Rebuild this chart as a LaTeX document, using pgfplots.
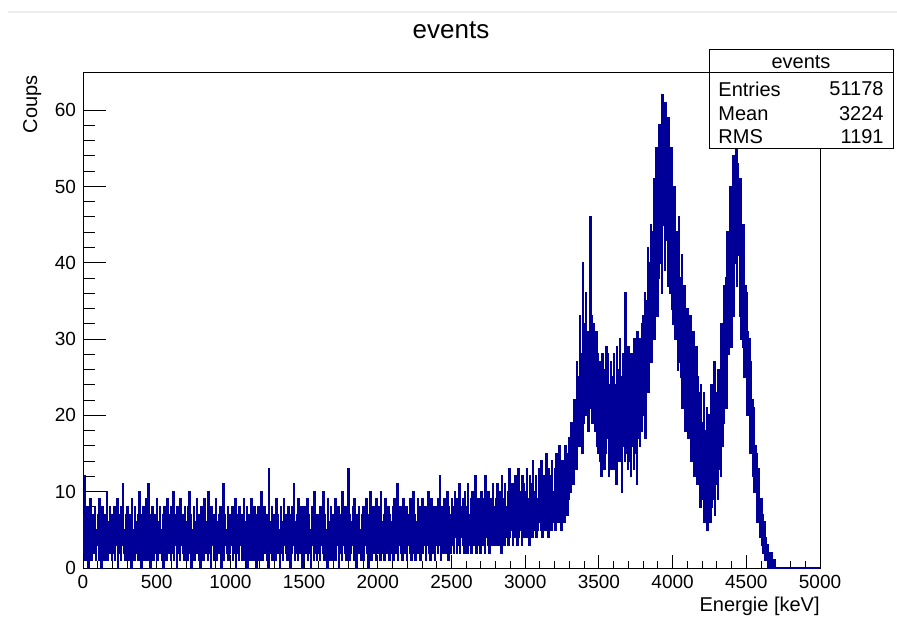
\documentclass[border=0pt]{standalone}
\usepackage{fontspec}
\setmainfont{Liberation Sans}
\usepackage{pgfplots}
\pgfplotsset{compat=1.18}
\definecolor{rootblue}{RGB}{0,0,153}

\begin{document}
\begin{tikzpicture}[x=1pt,y=1pt]
\useasboundingbox (0,0) rectangle (448.5,308);
\draw[black!7, line width=0.8pt] (4,302) -- (448.5,302);
\begin{axis}[
    at={(41.5pt,24pt)}, anchor=south west,
    scale only axis, width=368.5pt, height=248pt,
    xmin=0, xmax=5000, ymin=0, ymax=65,
    xtick={0,500,...,5000}, ytick={0,10,...,60},
    minor x tick num=4, minor y tick num=4,
    tick align=inside, tick pos=left,
    xtick style={/pgfplots/major tick length=6.5pt, /pgfplots/minor tick length=3.5pt},
    ytick style={/pgfplots/major tick length=11.5pt, /pgfplots/minor tick length=6pt},
    every tick/.style={black, line width=0.5pt},
    axis line style={line width=0.5pt},
    /pgf/number format/assume math mode=true,
    /pgf/number format/1000 sep={},
    scaled ticks=false,
    ticklabel style={font=\fontsize{9.5}{11}\selectfont},
    clip=true,
]
% histogramme, pas de 5 keV
\addplot[const plot, rootblue, line width=0.95pt] coordinates {
(0,7)(5,2)(10,12)(15,1)(20,6)(25,3)(30,8)(35,0)(40,5)(45,2)(50,9)(55,1)(60,7)(65,3)(70,6)(75,2)(80,8)(85,1)(90,5)(95,3)
(100,7)(105,1)(110,9)(115,2)(120,6)(125,0)(130,8)(135,3)(140,5)(145,1)(150,7)(155,2)(160,10)(165,1)(170,6)(175,3)(180,8)(185,2)(190,7)(195,1)
(200,6)(205,2)(210,8)(215,1)(220,5)(225,3)(230,9)(235,0)(240,7)(245,2)(250,6)(255,1)(260,8)(265,3)(270,11)(275,2)(280,5)(285,1)(290,7)(295,2)
(300,8)(305,1)(310,6)(315,3)(320,7)(325,0)(330,9)(335,2)(340,5)(345,1)(350,8)(355,3)(360,6)(365,2)(370,7)(375,1)(380,10)(385,2)(390,6)(395,0)
(400,7)(405,3)(410,8)(415,1)(420,6)(425,2)(430,9)(435,1)(440,11)(445,3)(450,5)(455,0)(460,7)(465,2)(470,8)(475,1)(480,6)(485,3)(490,7)(495,2)
(500,9)(505,1)(510,6)(515,2)(520,8)(525,3)(530,5)(535,1)(540,7)(545,0)(550,8)(555,2)(560,6)(565,1)(570,9)(575,3)(580,7)(585,2)(590,5)(595,1)
(600,8)(605,2)(610,10)(615,1)(620,6)(625,3)(630,7)(635,0)(640,8)(645,2)(650,5)(655,1)(660,9)(665,3)(670,6)(675,2)(680,7)(685,1)(690,8)(695,2)
(700,6)(705,1)(710,8)(715,3)(720,10)(725,2)(730,7)(735,0)(740,5)(745,2)(750,8)(755,1)(760,6)(765,3)(770,9)(775,2)(780,7)(785,1)(790,6)(795,0)
(800,8)(805,2)(810,7)(815,1)(820,9)(825,3)(830,6)(835,2)(840,5)(845,1)(850,10)(855,2)(860,7)(865,0)(870,8)(875,3)(880,6)(885,1)(890,7)(895,2)
(900,9)(905,1)(910,6)(915,2)(920,7)(925,3)(930,8)(935,0)(940,6)(945,2)(950,11)(955,1)(960,7)(965,3)(970,5)(975,2)(980,8)(985,1)(990,6)(995,2)
(1000,7)(1005,3)(1010,8)(1015,1)(1020,6)(1025,2)(1030,9)(1035,0)(1040,7)(1045,2)(1050,5)(1055,1)(1060,8)(1065,3)(1070,6)(1075,1)(1080,7)(1085,2)(1090,9)(1095,1)
(1100,6)(1105,2)(1110,8)(1115,0)(1120,7)(1125,3)(1130,5)(1135,1)(1140,9)(1145,2)(1150,6)(1155,1)(1160,8)(1165,3)(1170,7)(1175,0)(1180,6)(1185,2)(1190,8)(1195,1)
(1200,7)(1205,2)(1210,10)(1215,1)(1220,6)(1225,3)(1230,8)(1235,2)(1240,5)(1245,1)(1250,7)(1255,0)(1260,13)(1265,2)(1270,6)(1275,3)(1280,8)(1285,1)(1290,7)(1295,2)
(1300,6)(1305,1)(1310,9)(1315,2)(1320,7)(1325,3)(1330,5)(1335,0)(1340,8)(1345,2)(1350,6)(1355,1)(1360,9)(1365,3)(1370,7)(1375,2)(1380,6)(1385,1)(1390,8)(1395,2)
(1400,7)(1405,0)(1410,6)(1415,2)(1420,8)(1425,3)(1430,11)(1435,1)(1440,6)(1445,2)(1450,7)(1455,1)(1460,9)(1465,3)(1470,5)(1475,2)(1480,8)(1485,0)(1490,7)(1495,1)
(1500,8)(1505,2)(1510,6)(1515,3)(1520,9)(1525,1)(1530,7)(1535,2)(1540,5)(1545,0)(1550,8)(1555,3)(1560,6)(1565,1)(1570,10)(1575,2)(1580,7)(1585,1)(1590,6)(1595,2)
(1600,7)(1605,1)(1610,8)(1615,3)(1620,6)(1625,2)(1630,10)(1635,1)(1640,7)(1645,2)(1650,5)(1655,0)(1660,9)(1665,3)(1670,6)(1675,1)(1680,8)(1685,2)(1690,7)(1695,1)
(1700,6)(1705,2)(1710,9)(1715,1)(1720,7)(1725,3)(1730,8)(1735,0)(1740,6)(1745,2)(1750,7)(1755,1)(1760,10)(1765,3)(1770,5)(1775,2)(1780,8)(1785,1)(1790,6)(1795,2)
(1800,13)(1805,1)(1810,7)(1815,2)(1820,6)(1825,3)(1830,8)(1835,1)(1840,9)(1845,2)(1850,6)(1855,0)(1860,7)(1865,3)(1870,8)(1875,2)(1880,5)(1885,1)(1890,7)(1895,2)
(1900,8)(1905,1)(1910,6)(1915,3)(1920,9)(1925,2)(1930,7)(1935,0)(1940,6)(1945,2)(1950,10)(1955,1)(1960,7)(1965,3)(1970,8)(1975,2)(1980,6)(1985,1)(1990,9)(1995,2)
(2000,7)(2005,2)(2010,8)(2015,1)(2020,10)(2025,3)(2030,6)(2035,2)(2040,7)(2045,1)(2050,9)(2055,3)(2060,6)(2065,2)(2070,8)(2075,1)(2080,7)(2085,3)(2090,6)(2095,2)
(2100,8)(2105,1)(2110,9)(2115,3)(2120,7)(2125,2)(2130,11)(2135,1)(2140,6)(2145,3)(2150,8)(2155,2)(2160,7)(2165,1)(2170,9)(2175,3)(2180,6)(2185,2)(2190,8)(2195,1)
(2200,7)(2205,3)(2210,6)(2215,2)(2220,9)(2225,1)(2230,8)(2235,3)(2240,10)(2245,2)(2250,7)(2255,1)(2260,6)(2265,3)(2270,9)(2275,2)(2280,8)(2285,1)(2290,7)(2295,3)
(2300,9)(2305,2)(2310,7)(2315,3)(2320,8)(2325,1)(2330,6)(2335,3)(2340,10)(2345,2)(2350,7)(2355,1)(2360,9)(2365,3)(2370,8)(2375,2)(2380,6)(2385,1)(2390,8)(2395,3)
(2400,7)(2405,2)(2410,9)(2415,3)(2420,12)(2425,1)(2430,8)(2435,3)(2440,7)(2445,2)(2450,9)(2455,3)(2460,6)(2465,2)(2470,10)(2475,1)(2480,8)(2485,3)(2490,7)(2495,2)
(2500,9)(2505,3)(2510,8)(2515,2)(2520,10)(2525,4)(2530,7)(2535,2)(2540,9)(2545,3)(2550,11)(2555,2)(2560,8)(2565,4)(2570,7)(2575,3)(2580,9)(2585,2)(2590,10)(2595,3)
(2600,8)(2605,2)(2610,11)(2615,4)(2620,7)(2625,3)(2630,9)(2635,2)(2640,10)(2645,4)(2650,8)(2655,3)(2660,12)(2665,2)(2670,7)(2675,4)(2680,9)(2685,3)(2690,8)(2695,2)
(2700,10)(2705,4)(2710,7)(2715,3)(2720,9)(2725,2)(2730,12)(2735,4)(2740,8)(2745,3)(2750,10)(2755,2)(2760,9)(2765,4)(2770,7)(2775,3)(2780,11)(2785,5)(2790,8)(2795,3)
(2800,9)(2805,4)(2810,11)(2815,3)(2820,8)(2825,5)(2830,10)(2835,2)(2840,12)(2845,4)(2850,9)(2855,3)(2860,11)(2865,5)(2870,8)(2875,4)(2880,10)(2885,3)(2890,13)(2895,4)
(2900,9)(2905,5)(2910,11)(2915,3)(2920,10)(2925,4)(2930,12)(2935,5)(2940,8)(2945,3)(2950,13)(2955,4)(2960,10)(2965,5)(2970,9)(2975,3)(2980,12)(2985,4)(2990,11)(2995,5)
(3000,10)(3005,4)(3010,13)(3015,5)(3020,9)(3025,3)(3030,12)(3035,6)(3040,11)(3045,4)(3050,14)(3055,5)(3060,10)(3065,6)(3070,12)(3075,4)(3080,9)(3085,5)(3090,13)(3095,6)
(3100,11)(3105,5)(3110,14)(3115,4)(3120,12)(3125,6)(3130,10)(3135,5)(3140,15)(3145,7)(3150,11)(3155,4)(3160,13)(3165,6)(3170,12)(3175,5)(3180,14)(3185,7)(3190,10)(3195,6)
(3200,13)(3205,5)(3210,15)(3215,7)(3220,12)(3225,6)(3230,16)(3235,8)(3240,11)(3245,5)(3250,14)(3255,7)(3260,13)(3265,6)(3270,16)(3275,8)(3280,12)(3285,7)(3290,15)(3295,9)
(3300,17)(3305,10)(3310,19)(3315,12)(3320,18)(3325,11)(3330,22)(3335,14)(3340,21)(3345,13)(3350,27)(3355,17)(3360,25)(3365,16)(3370,33)(3375,18)(3380,28)(3385,15)(3390,40)(3395,19)
(3400,32)(3405,20)(3410,36)(3415,22)(3420,31)(3425,18)(3430,30)(3435,21)(3440,46)(3445,24)(3450,33)(3455,19)(3460,32)(3465,20)(3470,29)(3475,18)(3480,31)(3485,16)(3490,28)(3495,15)
(3500,27)(3505,14)(3510,25)(3515,12)(3520,28)(3525,16)(3530,24)(3535,13)(3540,26)(3545,15)(3550,29)(3555,17)(3560,28)(3565,12)(3570,24)(3575,15)(3580,27)(3585,13)(3590,25)(3595,16)
(3600,28)(3605,13)(3610,24)(3615,11)(3620,29)(3625,15)(3630,26)(3635,14)(3640,30)(3645,17)(3650,25)(3655,10)(3660,28)(3665,16)(3670,27)(3675,14)(3680,36)(3685,15)(3690,26)(3695,13)
(3700,29)(3705,14)(3710,26)(3715,12)(3720,28)(3725,16)(3730,25)(3735,13)(3740,30)(3745,15)(3750,27)(3755,11)(3760,31)(3765,17)(3770,28)(3775,16)(3780,30)(3785,18)(3790,32)(3795,20)
(3800,33)(3805,21)(3810,36)(3815,17)(3820,35)(3825,24)(3830,42)(3835,23)(3840,40)(3845,28)(3850,45)(3855,27)(3860,44)(3865,32)(3870,51)(3875,30)(3880,48)(3885,34)(3890,55)(3895,33)
(3900,53)(3905,38)(3910,58)(3915,40)(3920,54)(3925,36)(3930,62)(3935,45)(3940,57)(3945,39)(3950,61)(3955,43)(3960,56)(3965,37)(3970,59)(3975,40)(3980,52)(3985,36)(3990,55)(3995,34)
(4000,47)(4005,32)(4010,50)(4015,30)(4020,42)(4025,31)(4030,44)(4035,26)(4040,46)(4045,27)(4050,38)(4055,25)(4060,41)(4065,21)(4070,35)(4075,23)(4080,37)(4085,18)(4090,32)(4095,20)
(4100,34)(4105,17)(4110,29)(4115,19)(4120,33)(4125,14)(4130,27)(4135,16)(4140,31)(4145,12)(4150,26)(4155,15)(4160,29)(4165,11)(4170,25)(4175,13)(4180,23)(4185,8)(4190,24)(4195,10)
(4200,19)(4205,9)(4210,23)(4215,6)(4220,18)(4225,8)(4230,21)(4235,5)(4240,20)(4245,7)(4250,17)(4255,6)(4260,24)(4265,8)(4270,18)(4275,9)(4280,27)(4285,7)(4290,21)(4295,11)
(4300,23)(4305,9)(4310,26)(4315,13)(4320,24)(4325,12)(4330,32)(4335,16)(4340,30)(4345,19)(4350,37)(4355,23)(4360,38)(4365,21)(4370,44)(4375,28)(4380,43)(4385,31)(4390,50)(4395,29)
(4400,48)(4405,36)(4410,54)(4415,33)(4420,52)(4425,40)(4430,57)(4435,37)(4440,53)(4445,41)(4450,49)(4455,33)(4460,51)(4465,30)(4470,42)(4475,29)(4480,45)(4485,25)(4490,37)(4495,26)
(4500,36)(4505,20)(4510,31)(4515,23)(4520,30)(4525,15)(4530,27)(4535,18)(4540,22)(4545,12)(4550,21)(4555,10)(4560,16)(4565,11)(4570,15)(4575,6)(4580,13)(4585,7)(4590,9)(4595,4)
(4600,9)(4605,3)(4610,7)(4615,2)(4620,6)(4625,1)(4630,4)(4635,1)(4640,3)(4645,0)(4650,2)(4655,0)(4660,1)(4665,0)(4670,2)(4675,0)(4680,1)(4685,0)(4690,1)(4695,0)
(4700,0)(5000,0)
};
\end{axis}
% titre
\node[font=\fontsize{13}{15}\selectfont] at (225.5,293) {events};
% titres des axes
\node[anchor=base east, font=\fontsize{10}{12}\selectfont, inner sep=0pt] at (410,2.5) {Energie [keV]};
\node[rotate=90, anchor=base east, font=\fontsize{10}{12}\selectfont, inner sep=0pt] at (18.5,270.5) {Coups};
% boite de statistiques
\draw[fill=white, line width=0.5pt] (354.5,233.5) rectangle (446.5,283);
\draw[line width=0.5pt] (354.5,271.5) -- (446.5,271.5);
\begin{scope}[every node/.style={font=\fontsize{10}{12}\selectfont, inner sep=0pt}]
\node at (400.5,277) {events};
\node[anchor=west] at (359,263.5) {Entries};
\node[anchor=east] at (442,263.5) {51178};
\node[anchor=west] at (359,251) {Mean};
\node[anchor=east] at (442,251) {3224};
\node[anchor=west] at (359,239.5) {RMS};
\node[anchor=east] at (442,239.5) {1191};
\end{scope}
\end{tikzpicture}
\end{document}
